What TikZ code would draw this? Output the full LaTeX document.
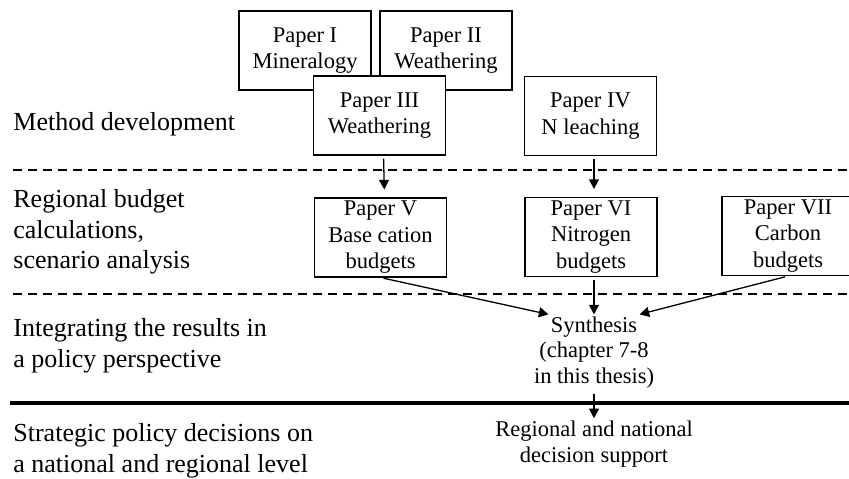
\documentclass[tikz,border=0pt]{standalone}
\usepackage{fontspec}
\setmainfont{Liberation Serif}
\usetikzlibrary{arrows.meta}

\tikzset{
  paper/.style={draw, fill=white, line width=0.65pt, minimum width=65.9pt, minimum height=39.4pt,
    align=center, inner sep=1pt, font=\fontsize{11.25}{13.25}\selectfont},
  level/.style={anchor=west, align=left, inner sep=0pt, font=\fontsize{13}{15.25}\selectfont},
  plain/.style={align=center, inner sep=1pt, font=\fontsize{11.25}{13.25}\selectfont},
  flow/.style={-{Triangle[length=4.8pt,width=5pt]}, line width=0.65pt, shorten <=1.5pt},
  divider/.style={line width=0.65pt, dash pattern=on 4.5pt off 3pt}
}

\begin{document}
\begin{tikzpicture}[x=0.5pt, y=-0.5pt]
    \useasboundingbox[fill=white] (0,0) rectangle (849,478);

    % Levels on the left
    \node[level] (lev1) at (13,124) {Method development};
    \node[level] (lev2) at (13,232) {Regional budget\\calculations,\\scenario analysis};
    \node[level] (lev3) at (13,346) {Integrating the results in\\a policy perspective};
    \node[level] (lev4) at (13,451) {Strategic policy decisions on\\a national and regional level};

    % Separators
    \draw[divider] (13,170) -- (849,170);
    \draw[divider] (13,294) -- (849,294);
    \draw[line width=2pt] (10,403) -- (849,403);

    % Papers (III is drawn last so it covers I and II)
    \node[paper] (p1) at (305,50.5) {Paper I\\Mineralogy};
    \node[paper] (p2) at (446,50.5) {Paper II\\Weathering};
    \node[paper] (p3) at (379.5,115.5) {Paper III\\Weathering};
    \node[paper] (p4) at (590.5,116) {Paper IV\\N leaching};
    \node[paper] (p5) at (380.5,237.5) {Paper V\\Base cation\\budgets};
    \node[paper] (p6) at (591,237) {Paper VI\\Nitrogen\\budgets};
    \node[paper] (p7) at (788,236) {Paper VII\\Carbon\\budgets};

    % Synthesis and outcome
    \node[plain] (syn) at (594,327) {Synthesis};
    \node[plain] (chap) at (594,365) {(chapter 7-8\\in this thesis)};
    \node[plain] (dec) at (594,444) {Regional and national\\decision support};

    % Arrows
    \draw[flow, shorten >=4pt] ([xshift=2pt]p3.south) -- ([xshift=2pt]p5.north);
    \draw[flow, shorten >=4pt] (p4.south -| syn.north) -- (p6.north -| syn.north);
    \draw[flow] (p5.south) -- (syn.north west);
    \draw[flow] (p6.south -| syn.north) -- (syn.north);
    \draw[flow] (p7.south) -- (syn.north east);
    \draw[flow] (chap.south) -- (dec.north);
\end{tikzpicture}
\end{document}
